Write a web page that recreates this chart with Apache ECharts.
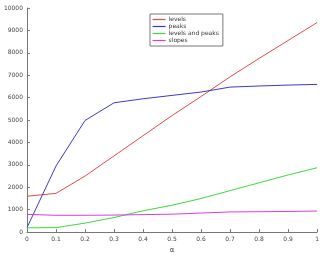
<!DOCTYPE html>
<html><head><meta charset="utf-8">
<script src="https://cdn.jsdelivr.net/npm/echarts@6/dist/echarts.min.js"></script>
<style>html,body{margin:0;padding:0;background:#fff}#c{width:322px;height:259px}</style>
</head><body><div id="c"></div>
<script>
var alphas = [0, 0.1, 0.2, 0.3, 0.4, 0.5, 0.6, 0.7, 0.8, 0.9, 1];
var levels = [1600, 1730, 2500, 3400, 4300, 5200, 6050, 6930, 7750, 8550, 9350];
var peaks = [200, 2950, 4980, 5770, 5950, 6100, 6250, 6470, 6520, 6560, 6590];
var levelsAndPeaks = [190, 200, 400, 650, 950, 1200, 1500, 1850, 2200, 2550, 2870];
var slopes = [790, 750, 750, 760, 780, 800, 850, 900, 910, 920, 940];
var seriesNames = ['levels', 'peaks', 'levels and peaks', 'slopes'];
var xTicks = ['0', '0.1', '0.2', '0.3', '0.4', '0.5', '0.6', '0.7', '0.8', '0.9', '1'];

function pairs(v){ return alphas.map(function(a,i){ return [a, v[i]]; }); }
var colors = ['#e34a4a', '#3a3ac8', '#3ed83e', '#d83ed8'];
var data = [levels, peaks, levelsAndPeaks, slopes];

var chart = echarts.init(document.getElementById('c'), null, {renderer:'canvas'});
chart.setOption({
  animation: false,
  grid: {left: 27, right: 4, top: 8, bottom: 20},
  legend: {
    orient: 'vertical', left: 150, top: 14,
    data: seriesNames.map(function(n, k){
      return {name: n, itemStyle: {opacity: 0}, lineStyle: {color: colors[k], width: 1.2}};
    }),
    itemWidth: 13, itemHeight: 7, itemGap: 0,
    borderColor: '#555', borderWidth: 0.8, padding: [2, 4, 2, 2],
    backgroundColor: '#fff',
    textStyle: {fontSize: 6, color: '#333', lineHeight: 7, padding: [0,0,0,-2], fontFamily: 'DejaVu Sans'}
  },
  xAxis: {
    type: 'value', min: 0, max: 1, interval: 0.1,
    name: 'α', nameLocation: 'middle', nameGap: 12,
    nameTextStyle: {fontSize: 7, color: '#444', fontFamily: 'DejaVu Sans'},
    axisLine: {lineStyle: {color: '#777', width: 1}},
    axisTick: {inside: true, length: 3, lineStyle: {color: '#777'}},
    splitLine: {show: false},
    axisLabel: {fontSize: 6, color: '#444', margin: 4, fontFamily: 'DejaVu Sans',
      formatter: function(v){ var i = Math.round(v*10); return xTicks[i]; }}
  },
  yAxis: {
    type: 'value', min: 0, max: 10000, interval: 1000,
    axisLine: {show: true, lineStyle: {color: '#777', width: 1}},
    axisTick: {show: true, inside: true, length: 3, lineStyle: {color: '#777'}},
    splitLine: {show: false},
    axisLabel: {fontSize: 6, color: '#444', margin: 4, fontFamily: 'DejaVu Sans',
      formatter: function(v){ return String(v); }}
  },
  series: seriesNames.map(function(n, k){
    return {name: n, type: 'line', data: pairs(data[k]), symbol: 'none',
      itemStyle: {color: colors[k]},
      lineStyle: {width: 1, color: colors[k]}};
  })
});
</script></body></html>
